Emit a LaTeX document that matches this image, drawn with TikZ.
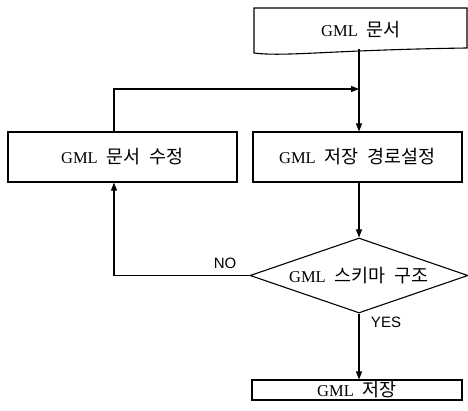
\documentclass[tikz,border=0pt]{standalone}
\usepackage{fontspec}
\setmainfont{Liberation Serif}
\newfontfamily\kr{Noto Sans CJK KR}[Scale=1.12]
\newfontfamily\lab{Liberation Sans}
\usetikzlibrary{shapes.geometric,arrows.meta}

\begin{document}
\begin{tikzpicture}[x=1pt,y=-1pt,
  line width=1.1pt,
  txt/.style={inner sep=0pt, font={\fontsize{16.5}{19}\selectfont\spaceskip=9pt\relax}},
  box/.style={txt, draw, rectangle},
  decision/.style={txt, draw, diamond, aspect=3},
  tag/.style={inner sep=0pt, font={\lab\fontsize{15}{17}\selectfont}},
  arr/.style={-{Triangle[length=8pt,width=6pt]}},
]
\useasboundingbox (0,0) rectangle (468,411);

% input document with wavy lower edge
\draw (254,8) -- (467,8) -- (467,48)
  .. controls (330,50) and (285,57) .. (254,53) -- cycle;
\node[txt] (doc) at (361,30) {GML {\kr 문서}};
\coordinate (docb) at (359,49.5);

% process boxes
\node[box, minimum width=229pt, minimum height=50pt] (edit) at (122.5,157) {GML {\kr 문서} {\kr 수정}};
\node[box, minimum width=209pt, minimum height=50pt] (path) at (357.5,157) {GML {\kr 저장} {\kr 경로설정}};
\node[decision, minimum width=218pt, minimum height=75pt] (chk) at (359,275.5) {GML {\kr 스키마} {\kr 구조}};
\node[box, minimum width=210pt, minimum height=20pt] (save) at (357,390) {GML {\kr 저장}};

% connectors
\coordinate (loop) at (114,89);
\draw[arr] (docb) -- (docb |- path.north);
\draw[arr] (edit.north -| loop) -- (loop) -- (loop -| docb);
\draw[arr] (path.south -| docb) -- (chk.north);
\draw[arr] (chk.west) -| (edit.south -| loop);
\draw[arr] (chk.south) -- (chk.south |- save.north);

% branch labels
\node[tag] (no) at (225,263) {NO};
\node[tag] (yes) at (386,322) {YES};
\end{tikzpicture}
\end{document}
